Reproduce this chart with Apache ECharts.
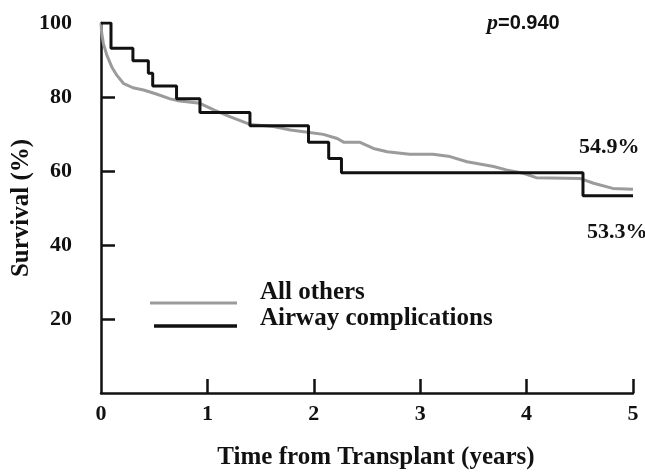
<!DOCTYPE html>
<html>
<head>
<meta charset="utf-8">
<script src="https://cdn.jsdelivr.net/npm/echarts@6/dist/echarts.min.js"></script>
<style>
html,body{margin:0;padding:0;background:#fff;}
#chart{width:645px;height:473px;}
</style>
</head>
<body>
<div id="chart"></div>
<script>
// ---- data ----
var seriesNames = ['All others', 'Airway complications'];

var timesOthers = [0, 0.007, 0.022, 0.054, 0.10, 0.148, 0.21, 0.30, 0.40, 0.52, 0.65, 0.74, 0.93, 1.06, 1.21, 1.40, 1.62, 1.78, 1.96, 2.09, 2.22, 2.28, 2.43, 2.56, 2.69, 2.90, 3.12, 3.28, 3.44, 3.69, 3.81, 3.97, 4.09, 4.50, 4.63, 4.81, 5.0];
var survOthers  = [100, 97.2, 94.5, 91.4, 88.2, 85.9, 83.7, 82.5, 81.9, 80.8, 79.5, 78.9, 78.3, 76.5, 74.7, 72.6, 72.0, 71.1, 70.4, 69.9, 68.8, 67.8, 67.8, 66.1, 65.2, 64.5, 64.5, 63.9, 62.5, 61.2, 60.3, 59.4, 58.2, 58.0, 56.7, 55.3, 55.1];

var timesAirway = [0, 0.094, 0.30, 0.445, 0.486, 0.71, 0.93, 1.40, 1.95, 2.14, 2.26, 4.53, 5.0];
var survAirway  = [100, 93.2, 89.8, 86.4, 83.0, 79.5, 75.8, 72.2, 67.8, 63.4, 59.5, 53.3, 53.3];

var xTickLabels = [0, 1, 2, 3, 4, 5];
var xTickMarks  = [1, 2, 3, 4, 5];
var yTickLabels = [20, 40, 60, 80, 100];
var yTickMarks  = [20, 40, 60, 80];

var pValueText = '0.940';
var endLabels = ['54.9%', '53.3%'];
var xAxisTitle = 'Time from Transplant (years)';
var yAxisTitle = 'Survival (%)';

function pairs(xs, ys){ return xs.map(function(x,i){ return [x, ys[i]]; }); }

var serif = '"Liberation Serif", "Times New Roman", serif';
var colOthers = '#9b9b9b';
var colAirway = '#111111';

function legendCfg(name, left, top, width, height, lh){
  return {
    data: [name], left: left, top: top, padding: 0,
    icon: 'rect', itemWidth: width, itemHeight: height,
    formatter: function(n){ return n + '\n'; },
    textStyle: {fontFamily: serif, fontWeight: 'bold', fontSize: 25, color: '#111', lineHeight: lh, padding: [0, 0, 0, 18]},
    selectedMode: false
  };
}

var chart = echarts.init(document.getElementById('chart'), null, {renderer:'canvas'});
chart.setOption({
  animation: false,
  backgroundColor: '#fff',
  grid: {left: 101, right: 12, top: 23, bottom: 80, containLabel: false},
  xAxis: {
    type: 'value', min: 0, max: 5, interval: 1,
    axisLine: {show: true, lineStyle: {color: '#111', width: 2.5}},
    axisTick: {show: true, inside: true, length: 14, customValues: xTickMarks, lineStyle: {color: '#111', width: 2.5}},
    axisLabel: {customValues: xTickLabels, margin: 10, color: '#111', fontFamily: serif, fontWeight: 'bold', fontSize: 22},
    splitLine: {show: false}
  },
  yAxis: {
    type: 'value', min: 0, max: 100, interval: 20,
    axisLine: {show: true, lineStyle: {color: '#111', width: 2.5}},
    axisTick: {show: true, inside: true, length: 14, customValues: yTickMarks, lineStyle: {color: '#111', width: 2.5}},
    axisLabel: {customValues: yTickLabels, margin: 29, color: '#111', fontFamily: serif, fontWeight: 'bold', fontSize: 22},
    splitLine: {show: false}
  },
  legend: [
    legendCfg(seriesNames[0], 150, 280.5, 87, 3, 20),
    legendCfg(seriesNames[1], 154, 306.5, 83, 3.5, 14)
  ],
  series: [
    {
      name: seriesNames[0], type: 'line', showSymbol: false, symbol: 'none',
      data: pairs(timesOthers, survOthers),
      itemStyle: {color: colOthers},
      lineStyle: {color: colOthers, width: 3},
      z: 2
    },
    {
      name: seriesNames[1], type: 'line', step: 'end', showSymbol: false, symbol: 'none',
      data: pairs(timesAirway, survAirway),
      itemStyle: {color: colAirway},
      lineStyle: {color: colAirway, width: 3},
      z: 3
    }
  ],
  graphic: [
    {
      type: 'text', left: 487, top: 12,
      style: {
        text: '{p|p}{v|=' + pValueText + '}',
        rich: {
          p: {fontFamily: serif, fontStyle: 'italic', fontWeight: 'bold', fontSize: 22, fill: '#111'},
          v: {fontFamily: '"Liberation Sans", Arial, sans-serif', fontWeight: 'bold', fontSize: 20, fill: '#111'}
        }
      }
    },
    {
      type: 'text', x: 579, y: 147,
      style: {text: endLabels[0], fontFamily: serif, fontWeight: 'bold', fontSize: 22, fill: '#111', align: 'left', verticalAlign: 'middle'}
    },
    {
      type: 'text', x: 587, y: 232,
      style: {text: endLabels[1], fontFamily: serif, fontWeight: 'bold', fontSize: 22, fill: '#111', align: 'left', verticalAlign: 'middle'}
    },
    {
      type: 'text', x: 376, y: 458,
      style: {text: xAxisTitle, fontFamily: serif, fontWeight: 'bold', fontSize: 25, fill: '#111', align: 'center', verticalAlign: 'middle'}
    },
    {
      type: 'text', x: 22, y: 208, rotation: Math.PI / 2,
      style: {text: yAxisTitle, fontFamily: serif, fontWeight: 'bold', fontSize: 25, fill: '#111', align: 'center', verticalAlign: 'middle'}
    }
  ]
});
</script>
</body>
</html>
